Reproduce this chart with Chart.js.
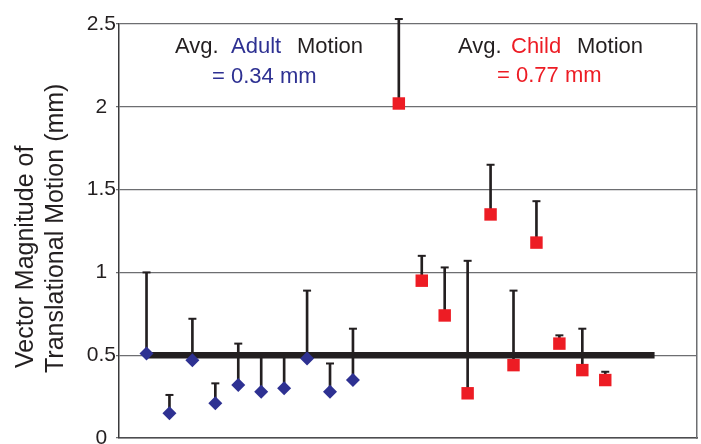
<!DOCTYPE html>
<html>
<head>
<meta charset="utf-8">
<script src="https://cdn.jsdelivr.net/npm/chart.js@4.4.1/dist/chart.umd.min.js"></script>
<style>
  body { margin: 0; background: #fff; overflow: hidden; }
  canvas { display: block; }
</style>
</head>
<body>
<canvas id="motionChart" width="701" height="444"></canvas>
<script>
// Data

const adultX = [1, 2, 3, 4, 5, 6, 7, 8, 9, 10];
const adultMotion = [0.51, 0.15, 0.47, 0.21, 0.32, 0.28, 0.30, 0.48, 0.28, 0.35];
const adultErrTop = [1.00, 0.26, 0.72, 0.33, 0.57, 0.50, 0.50, 0.89, 0.45, 0.66];

const childX = [12, 13, 14, 15, 16, 17, 18, 19, 20, 21];
const childMotion = [2.02, 0.95, 0.74, 0.27, 1.35, 0.44, 1.18, 0.57, 0.41, 0.35];
const childErrTop = [2.53, 1.10, 1.03, 1.07, 1.65, 0.89, 1.43, 0.62, 0.66, 0.40];

const thresholdX = [1, 23.15];
const thresholdY = [0.5, 0.5];

const yTickMin = 0;
const yTickMax = 2.5;
const yTickStep = 0.5;

const yTitle = ["Vector Magnitude of", "Translational Motion (mm)"];

const BLACK = "#231f20";
const BLUE = "#2e3192";
const RED = "#ed1c24";
const FONT = "'Liberation Sans', Arial, Helvetica, sans-serif";

// helpers to build points
function toPoints(xs, ys) {
    return xs.map((x, i) => ({ x: x, y: ys[i] }));
}
function toRanges(xs, lows, highs) {
    return xs.map((x, i) => ({ x: x, y: [lows[i], highs[i]] }));
}

const allX = adultX.concat(childX);
const allLow = adultMotion.concat(childMotion);
const allHigh = adultErrTop.concat(childErrTop);

// TEXT OVERLAY (axis title + averages)
const textPlugin = {
    id: "textOverlay",
    afterDraw(chart) {
        const ctx = chart.ctx;
        ctx.save();
        ctx.fillStyle = BLACK;
        ctx.textBaseline = "alphabetic";
        ctx.textAlign = "left";

        // rotated y title, both lines start near the bottom
        ctx.font = "25px " + FONT;
        ctx.save();
        ctx.translate(33, 368);
        ctx.rotate(-Math.PI / 2);
        ctx.fillText(yTitle[0], 0, 0);
        ctx.restore();
        ctx.save();
        ctx.translate(63, 373);
        ctx.rotate(-Math.PI / 2);
        ctx.fillText(yTitle[1], 0, 0);
        ctx.restore();

        // averages
        ctx.font = "22px " + FONT;
        ctx.fillStyle = BLACK;
        ctx.fillText("Avg.", 175, 53);
        ctx.fillStyle = BLUE;
        ctx.fillText("Adult", 231, 53);
        ctx.fillStyle = BLACK;
        ctx.fillText("Motion", 297, 53);
        ctx.fillStyle = BLUE;
        ctx.fillText("= 0.34 mm", 212, 83);

        ctx.fillStyle = BLACK;
        ctx.fillText("Avg.", 458, 53);
        ctx.fillStyle = RED;
        ctx.fillText("Child", 511, 53);
        ctx.fillStyle = BLACK;
        ctx.fillText("Motion", 577, 53);
        ctx.fillStyle = RED;
        ctx.fillText("= 0.77 mm", 497, 82);

        ctx.restore();
    }
};

const chart = new Chart(document.getElementById("motionChart"), {
    type: "scatter",
    data: {
        datasets: [
            {
                label: "Adult",
                data: toPoints(adultX, adultMotion),
                pointStyle: "rectRot",
                pointRadius: 7,
                pointHoverRadius: 7,
                pointBorderWidth: 0,
                backgroundColor: BLUE,
                borderColor: BLUE,
                order: 0
            },
            {
                label: "Child",
                data: toPoints(childX, childMotion),
                pointStyle: "rect",
                pointRadius: 8.8,
                pointHoverRadius: 8.8,
                pointBorderWidth: 0,
                backgroundColor: RED,
                borderColor: RED,
                order: 0
            },
            {
                type: "line",
                label: "Threshold",
                data: toPoints(thresholdX, thresholdY),
                borderColor: BLACK,
                borderWidth: 6.5,
                borderCapStyle: "butt",
                pointRadius: 0,
                showLine: true,
                fill: false,
                order: 1
            },
            {
                type: "bar",
                label: "Error",
                data: toRanges(allX, allLow, allHigh),
                backgroundColor: BLACK,
                borderWidth: 0,
                barThickness: 2,
                clip: false,
                order: 2
            },
            {
                label: "Error caps",
                data: toPoints(allX, allHigh),
                pointStyle: "line",
                pointRadius: 4,
                pointHoverRadius: 4,
                pointBorderWidth: 2,
                borderColor: BLACK,
                backgroundColor: BLACK,
                clip: false,
                order: 2
            }
        ]
    },
    options: {
        responsive: false,
        devicePixelRatio: 1,
        animation: false,
        events: [],
        layout: {
            autoPadding: false,
            padding: { left: 0, top: 24, right: 4, bottom: 6 }
        },
        plugins: {
            legend: { display: false },
            tooltip: { enabled: false }
        },
        scales: {
            x: {
                type: "linear",
                offset: false,
                min: -0.2,
                max: 25,
                ticks: { display: false },
                grid: { display: false, offset: false },
                border: { display: true, color: "#4d4d4f", width: 1.5 },
                afterFit: s => { s.height = 0; s.paddingLeft = 0; s.paddingRight = 0; }
            },
            y: {
                type: "linear",
                position: "left",
                min: yTickMin,
                max: yTickMax,
                ticks: {
                    stepSize: yTickStep,
                    padding: 0,
                    crossAlign: "center",
                    color: BLACK,
                    font: { family: FONT, size: 21 },
                    callback: v => String(v)
                },
                grid: { color: "#6d6e71", lineWidth: 1.2, tickLength: 3 },
                border: { display: true, color: "#3a3a3c", width: 1.5 },
                afterFit: s => {
                    s.width = 119;
                    s.paddingTop = 0;
                    s.paddingBottom = 0;
                }
            },
            y2: {
                type: "linear",
                position: "right",
                display: true,
                ticks: { display: false },
                grid: { display: false },
                border: { display: true, color: "#6d6e71", width: 1.5 },
                afterFit: s => { s.width = 0; s.paddingTop = 0; s.paddingBottom = 0; }
            }
        }
    },
    plugins: [textPlugin]
});
</script>
</body>
</html>
